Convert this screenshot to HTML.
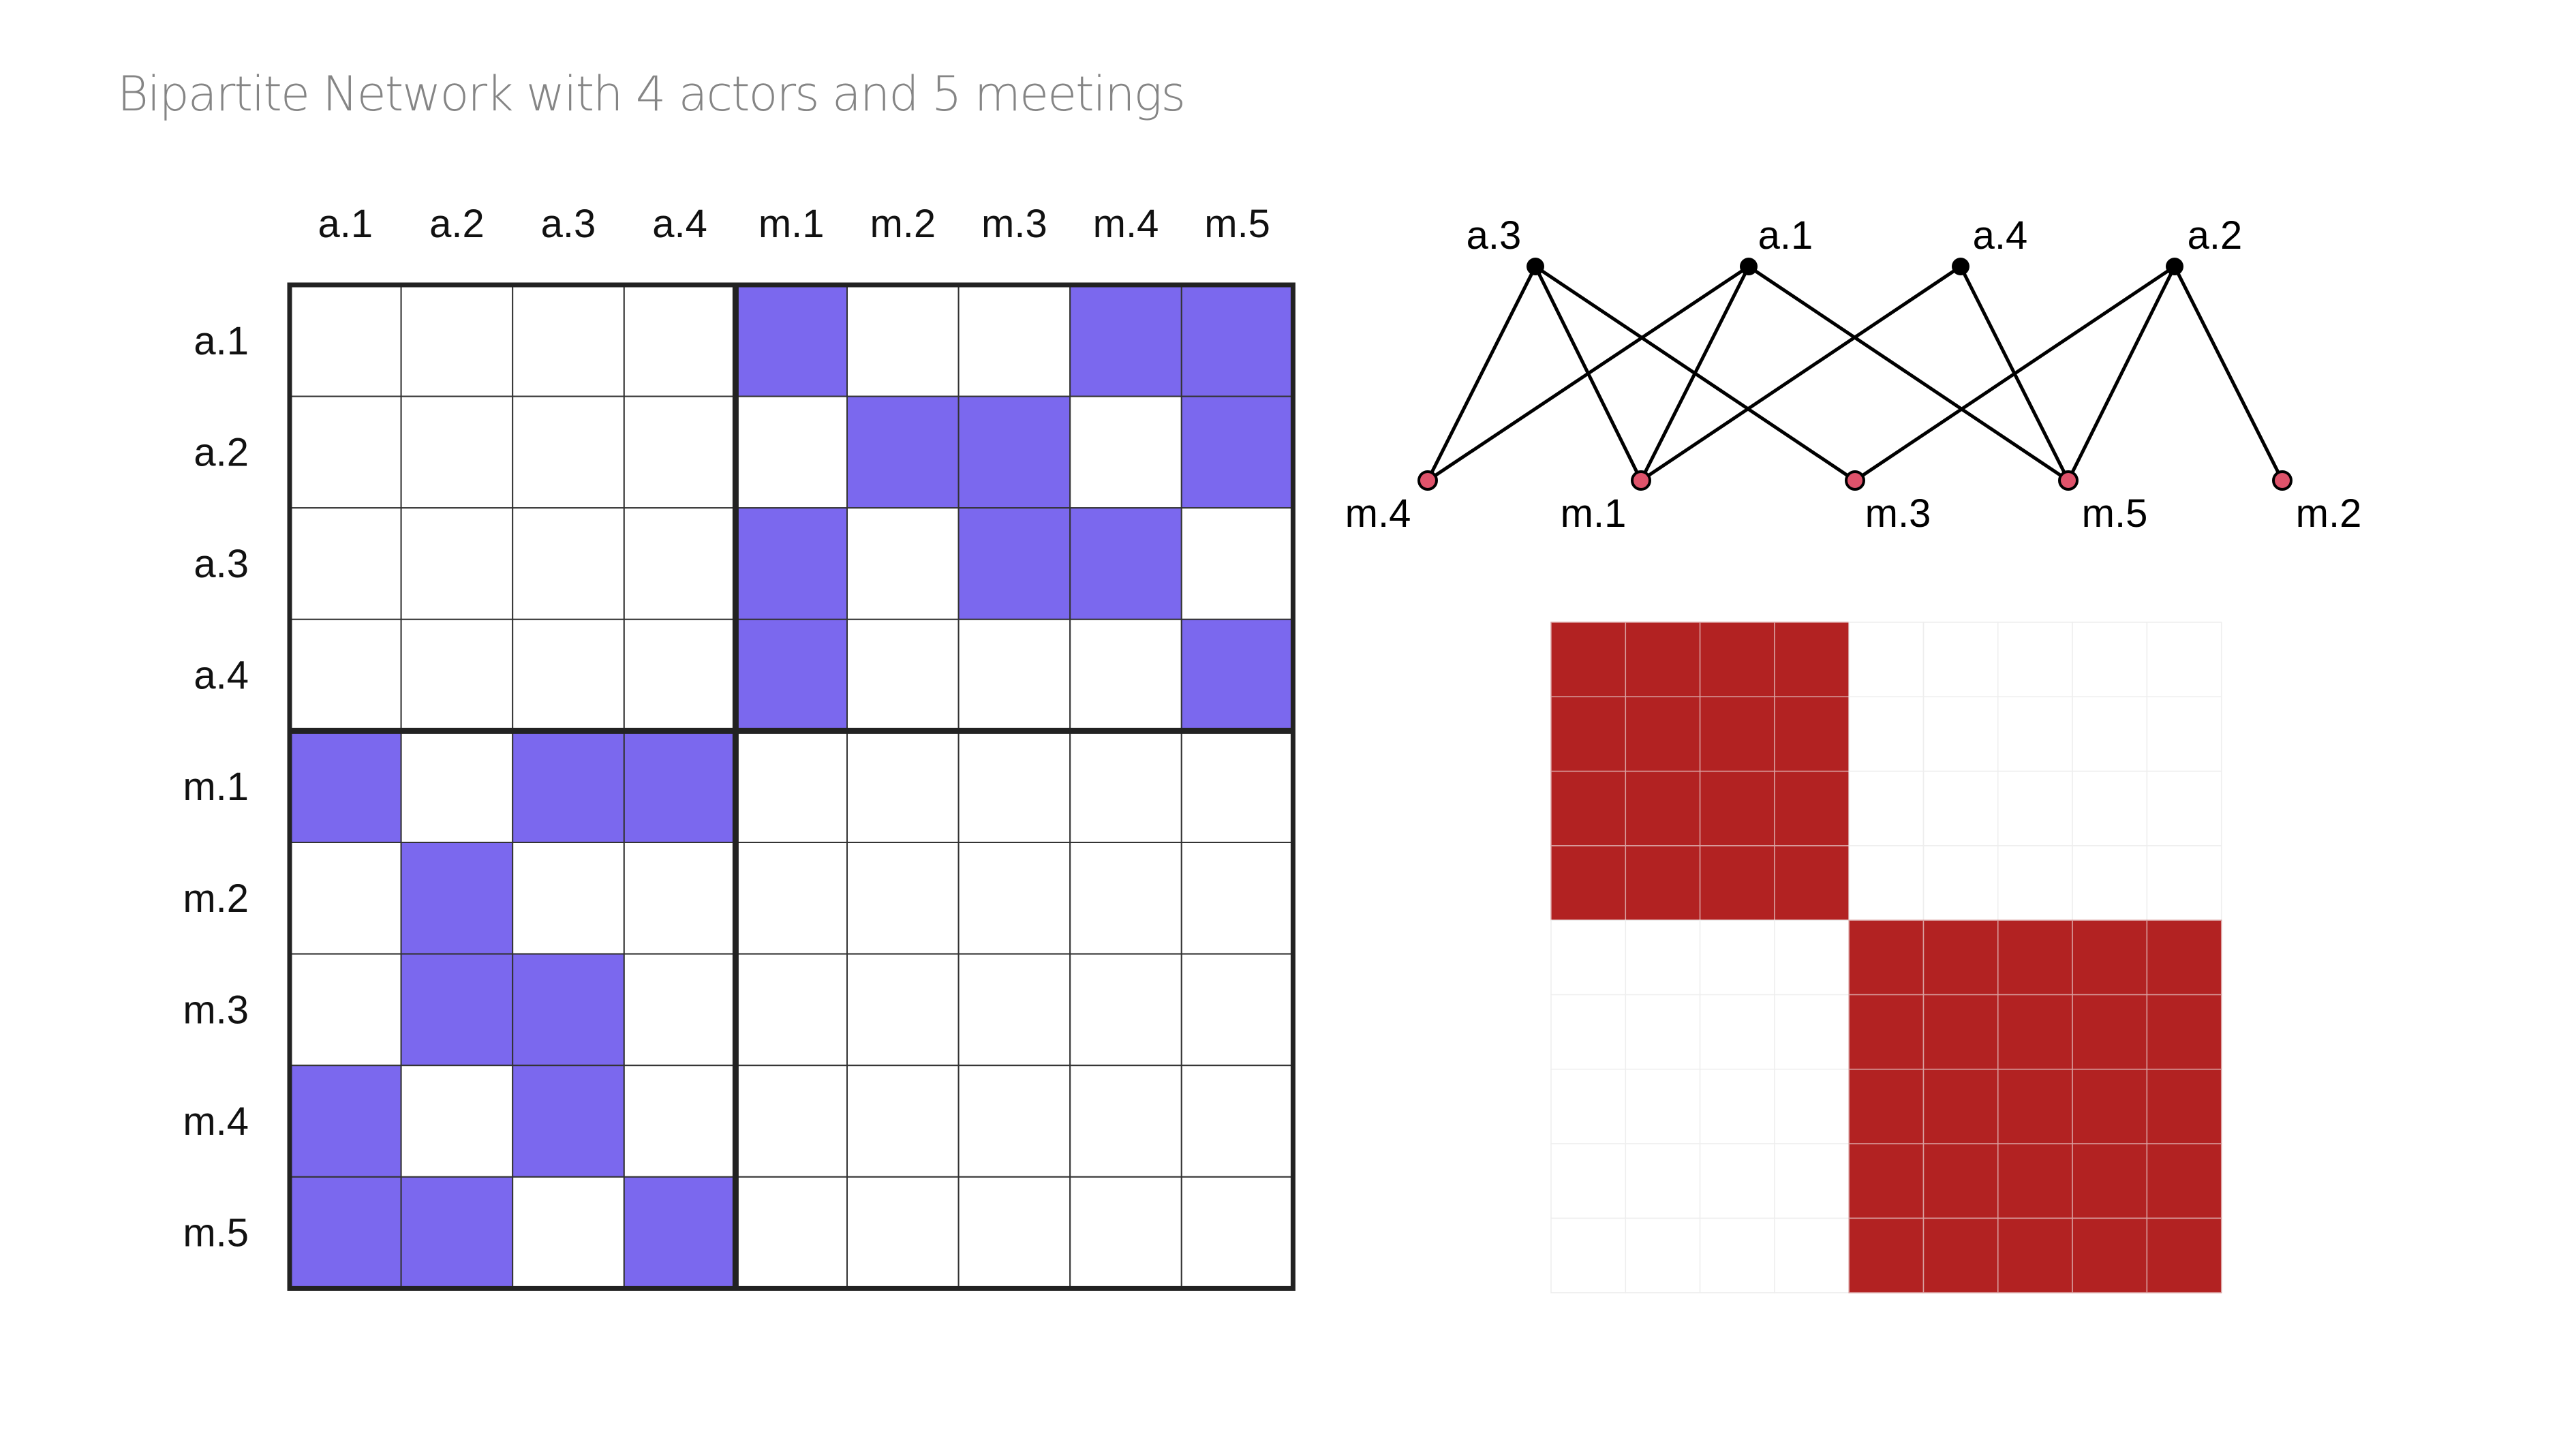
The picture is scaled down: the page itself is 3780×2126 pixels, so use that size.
<!DOCTYPE html>
<html><head><meta charset="utf-8"><style>
html,body{margin:0;padding:0;background:#fff;}
svg{display:block;}
text{font-family:"Liberation Sans",sans-serif;}
</style></head><body>
<svg width="3780" height="2126" viewBox="0 0 3780 2126" xmlns="http://www.w3.org/2000/svg">
<rect width="3780" height="2126" fill="#fff"/>
<text x="172" y="162" font-size="70" fill="#858585" style="font-family:'DejaVu Sans','Liberation Sans',sans-serif;font-weight:200" textLength="1568">Bipartite Network with 4 actors and 5 meetings</text>
<g id="mat"></g>
<g id="net"></g>
<g id="heat"></g>
<script>
(function(){
var NS="http://www.w3.org/2000/svg";
function el(p,t,a,txt){var e=document.createElementNS(NS,t);for(var k in a)e.setAttribute(k,a[k]);if(txt)e.textContent=txt;p.appendChild(e);return e;}
var labs=["a.1","a.2","a.3","a.4","m.1","m.2","m.3","m.4","m.5"];
var A=[[0,0,0,0,1,0,0,1,1],[0,0,0,0,0,1,1,0,1],[0,0,0,0,1,0,1,1,0],[0,0,0,0,1,0,0,0,1],
[1,0,1,1,0,0,0,0,0],[0,1,0,0,0,0,0,0,0],[0,1,1,0,0,0,0,0,0],[1,0,1,0,0,0,0,0,0],[1,1,0,1,0,0,0,0,0]];
var m=document.getElementById("mat");
var x0=425,y0=418,c=163.6;
for(var i=0;i<9;i++){
 el(m,"text",{x:x0+c*i+c/2,y:348,"font-size":58,"text-anchor":"middle",fill:"#111"},labs[i]);
 el(m,"text",{x:365,y:y0+c*i+c/2+20,"font-size":58,"text-anchor":"end",fill:"#111"},labs[i]);
 for(var j=0;j<9;j++){
  el(m,"rect",{x:x0+c*j,y:y0+c*i,width:c,height:c,fill:A[i][j]?"#7B68EE":"#fff",stroke:"#333","stroke-width":2});
 }
}
el(m,"rect",{x:x0,y:y0,width:9*c,height:9*c,fill:"none",stroke:"#222","stroke-width":7});
el(m,"line",{x1:x0+4*c,y1:y0,x2:x0+4*c,y2:y0+9*c,stroke:"#222","stroke-width":9});
el(m,"line",{x1:x0,y1:y0+4*c,x2:x0+9*c,y2:y0+4*c,stroke:"#222","stroke-width":9});
var n=document.getElementById("net");
var topX={"a.3":2253,"a.1":2566,"a.4":2877,"a.2":3191},botX={"m.4":2095,"m.1":2408,"m.3":2722,"m.5":3035,"m.2":3349};
var ty=391,by=705;
var E=[["a.3","m.4"],["a.3","m.1"],["a.3","m.3"],["a.1","m.4"],["a.1","m.1"],["a.1","m.5"],["a.4","m.1"],["a.4","m.5"],["a.2","m.3"],["a.2","m.5"],["a.2","m.2"]];
E.forEach(function(e){el(n,"line",{x1:topX[e[0]],y1:ty,x2:botX[e[1]],y2:by,stroke:"#000","stroke-width":5});});
for(var k in topX){el(n,"circle",{cx:topX[k],cy:ty,r:13,fill:"#000"});}
for(var k in botX){el(n,"circle",{cx:botX[k],cy:by,r:13,fill:"#DF536B",stroke:"#000","stroke-width":4});}
var tl={"a.3":2192,"a.1":2620,"a.4":2935,"a.2":3250};
for(var k in tl){el(n,"text",{x:tl[k],y:365,"font-size":58,"text-anchor":"middle",fill:"#000"},k);}
var bl={"m.4":2022,"m.1":2338,"m.3":2785,"m.5":3103,"m.2":3417};
for(var k in bl){el(n,"text",{x:bl[k],y:773,"font-size":58,"text-anchor":"middle",fill:"#000"},k);}
var h=document.getElementById("heat");
var hx=2276,hy=913,hc=109.3;
for(var i=0;i<9;i++)for(var j=0;j<9;j++){
 var red=(i<4&&j<4)||(i>=4&&j>=4);
 el(h,"rect",{x:hx+hc*j,y:hy+hc*i,width:hc,height:hc,fill:red?"#B22222":"#fff",stroke:red?"#d9a0a0":"#eeeeee","stroke-width":1.5});
}
})();
</script>
</svg>
</body></html>
